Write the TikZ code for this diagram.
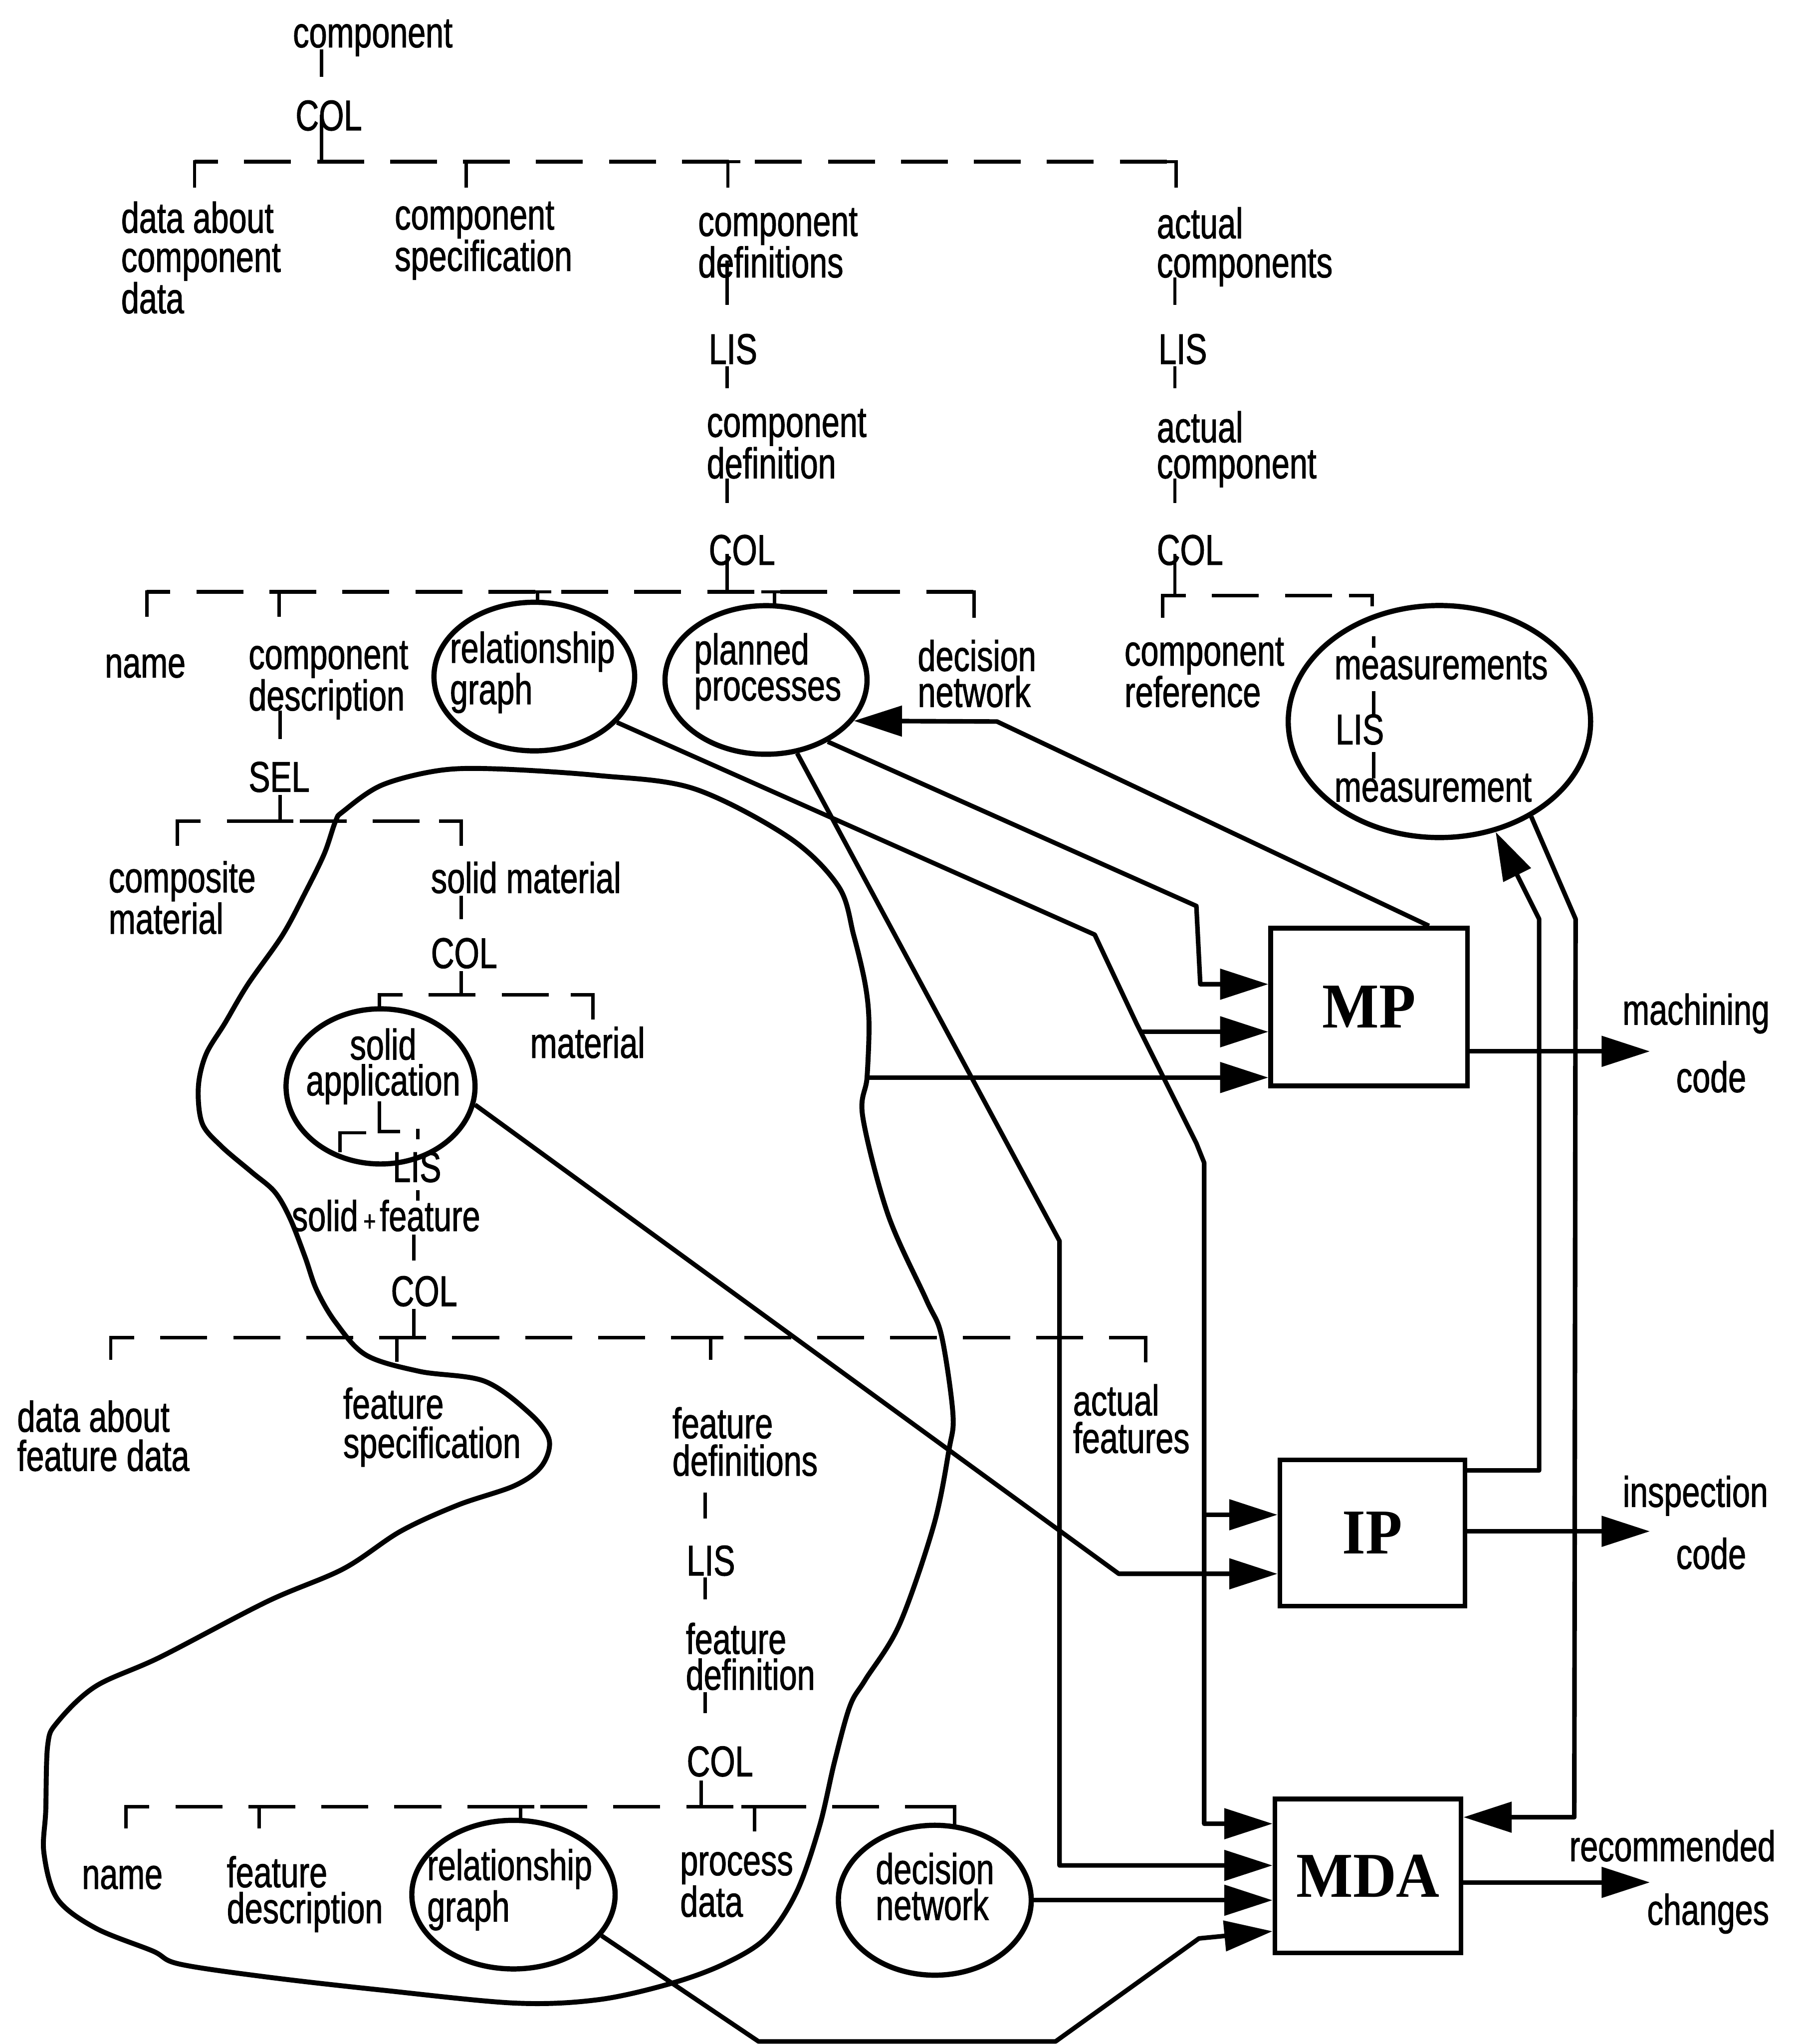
\documentclass[tikz,border=0pt]{standalone}
\usepackage{fontspec}
\setmainfont{Liberation Sans}[FakeStretch=0.75, FakeBold=1.2]
\newfontfamily\boxfont{Liberation Serif}[FakeStretch=0.94]
\usetikzlibrary{arrows.meta,shapes.geometric,calc}

% Multi-line labels are placed by the baseline of their last line.
\tikzset{
  lbl/.style={anchor=base west, inner sep=0pt, outer sep=0pt, align=left,
              font=\fontsize{33}{28.5}\selectfont},
  lead/.style={font=\fontsize{33}{#1}\selectfont},
  oval/.style={draw, ellipse, line width=4pt, inner sep=0pt},
  proc/.style={draw, rectangle, line width=3.5pt, inner sep=0pt,
               font=\boxfont\bfseries\fontsize{49}{49}\selectfont},
  link/.style={line width=3.5pt, line join=round},
  arr/.style={link, -{Triangle[length=37pt,width=23pt]}},
  tick/.style={line width=2.6pt},
  bus/.style={line width=2.8pt, dash pattern=on 36pt off 20pt, dash phase=18pt},
}

\begin{document}
\begin{tikzpicture}[x=1pt,y=-1pt]
\useasboundingbox (0,0) rectangle (1377,1568);

% ---------- component level ----------
\node[lbl] (tcomp) at (224.8,36.3) {component};
\node[lbl] (tcol1) at (226.8,100) {COL};
\node[lbl, lead=30] (tdacd) at (93,240.3) {data about\\component\\data};
\node[lbl, lead=30] (tcspec) at (302.9,207.8) {component\\specification};
\node[lbl, lead=30] (tcdefs) at (535.7,212.8) {component\\definitions};
\node[lbl] (tlis1) at (543.9,279.2) {LIS};
\node[lbl, lead=27.6] (tcdef) at (542.4,366.9) {component\\definition};
\node[lbl] (tcol2) at (543.9,433.3) {COL};
\node[lbl, lead=30] (tacts) at (887.7,212.8) {actual\\components};
\node[lbl] (tlis2) at (889,279.2) {LIS};
\node[lbl, lead=27.6] (tact) at (887.7,366.9) {actual\\component};
\node[lbl] (tcol3) at (887.7,433.3) {COL};

\draw[tick] (246.7,38) -- (246.7,59);
\draw[tick] (246.7,88) -- (246.7,124);
\draw[bus] (149.3,124) -- (902.4,124);
\draw[tick] (149.3,144) -- (149.3,124) -- (167,124);
\draw[tick] (885,124) -- (902.4,124) -- (902.4,144);
\draw[tick] (357.6,144) -- (357.6,124) -- (375,124);
\draw[tick] (548,124) -- (568,124) (558.5,124) -- (558.5,144);

\draw[tick] (558,200) -- (558,234);
\draw[tick] (558,281) -- (558,298);
\draw[tick] (558,367) -- (558,386);
\draw[tick] (558,425) -- (558,454);
\draw[tick] (901.5,213) -- (901.5,234);
\draw[tick] (901.5,281) -- (901.5,298);
\draw[tick] (901.5,367) -- (901.5,386);
\draw[tick] (901.5,425) -- (901.5,457);

% ---------- component definition attributes ----------
\node[oval, minimum width=154pt, minimum height=114pt] (rg1) at (410,519) {};
\node[oval, minimum width=155pt, minimum height=114pt] (pp) at (587.8,521.6) {};
\node[oval, minimum width=232pt, minimum height=178pt] (ms) at (1104.5,553.5) {};

\node[lbl] (tname1) at (80.5,519.7) {name};
\node[lbl, lead=26.5] (tcdesc) at (190.8,545) {component\\description};
\node[lbl, lead=23] (trg1) at (345.3,540.2) {relationship\\graph};
\node[lbl, lead=27.6] (tpp) at (532.7,537.3) {planned\\processes};
\node[lbl, lead=27.6] (tdn1) at (704.2,542.3) {decision\\network};
\node[lbl, lead=27.6] (tcref) at (862.9,542.3) {component\\reference};
\node[lbl] (tmeas) at (1024,521) {measurements};
\node[lbl] (tlis3) at (1024.8,571) {LIS};
\node[lbl] (tmeas1) at (1024,614.9) {measurement};

\draw[bus] (112.7,454) -- (747.3,454);
\draw[tick] (112.7,473) -- (112.7,454) -- (130,454);
\draw[tick] (730,454) -- (747.3,454) -- (747.3,474);
\draw[tick] (214.2,473) -- (214.2,454) -- (232,454);
\draw[tick] (402,454) -- (423,454) (412.6,454) -- (412.6,462);
\draw[tick] (584,454) -- (604,454) (594.2,454) -- (594.2,465);

\draw[bus] (892,457) -- (1053,457);
\draw[tick] (892,474) -- (892,457) -- (910,457);
\draw[tick] (1035,457) -- (1053,457) -- (1053,465);

\draw[tick] (1054,488) -- (1054,497);
\draw[tick] (1054,530) -- (1054,548);
\draw[tick] (1054,577) -- (1054,597);

% ---------- material branch ----------
\node[lbl] (tsel) at (190.8,607.4) {SEL};
\node[lbl, lead=30] (tcomp2) at (83.4,716.3) {composite\\material};
\node[lbl] (tsolid) at (330.7,685) {solid material};
\node[lbl] (tcol4) at (330.7,742.6) {COL};
\node[oval, minimum width=145pt, minimum height=119pt] (sa) at (292,833.4) {};
\node[lbl, anchor=base, align=center, lead=27.5] (tsa) at (294,840.3) {solid\\application};
\node[lbl] (tmat) at (406.8,811.5) {material};
\node[lbl] (tlis4) at (301.4,906.7) {LIS};
\node[lbl] (tsf) at (223.9,944.3) {solid\hspace{4pt}{\fontsize{22}{22}\selectfont+}\hspace{3pt}feature};
\node[lbl] (tcol5) at (300,1001.9) {COL};

\draw[tick] (215,545) -- (215,567);
\draw[tick] (215,610) -- (215,630);
\draw[bus] (136,630) -- (354,630);
\draw[tick] (136,649) -- (136,630) -- (153,630);
\draw[tick] (337,630) -- (354,630) -- (354,649);
\draw[tick] (205,630) -- (225,630);

\draw[tick] (354,687) -- (354,705);
\draw[tick] (354,745) -- (354,763);
\draw[bus] (291,763) -- (455,763);
\draw[tick] (291,774) -- (291,763) -- (308,763);
\draw[tick] (438,763) -- (455,763) -- (455,782);
\draw[tick] (344,763) -- (364,763);

\draw[tick] (291,845) -- (291,868) -- (307,868);
\draw[tick] (281,869) -- (261,869) -- (261,884);
\draw[tick] (320.5,866) -- (320.5,874);
\draw[tick] (320.5,913) -- (320.5,921);
\draw[tick] (317.5,947) -- (317.5,967);
\draw[tick] (317.5,1004) -- (317.5,1026);

% ---------- feature level ----------
\node[lbl, lead=30] (tdafd) at (13.2,1128.3) {data about\\feature data};
\node[lbl, lead=30] (tfspec) at (263.4,1118.3) {feature\\specification};
\node[lbl, lead=28.7] (tfdefs) at (516,1132) {feature\\definitions};
\node[lbl, lead=28.8] (tafeat) at (823.4,1114.6) {actual\\features};
\node[lbl] (tlis5) at (526.9,1208.6) {LIS};
\node[lbl, lead=27.5] (tfdef) at (526.3,1296.2) {feature\\definition};
\node[lbl] (tcol6) at (527,1362.6) {COL};

\draw[bus] (85,1026) -- (879,1026);
\draw[tick] (85,1043) -- (85,1026) -- (102,1026);
\draw[tick] (862,1026) -- (879,1026) -- (879,1045);
\draw[tick] (294,1026) -- (314,1026) (304.4,1026) -- (304.4,1044.5);
\draw[tick] (535,1026) -- (555,1026) (545.3,1026) -- (545.3,1043);

\draw[tick] (541,1145) -- (541,1165);
\draw[tick] (541,1210) -- (541,1227);
\draw[tick] (541,1298) -- (541,1314);
\draw[tick] (538,1366) -- (538,1386);

% ---------- feature definition attributes ----------
\node[oval, minimum width=156pt, minimum height=114pt] (rg2) at (394,1453.4) {};
\node[oval, minimum width=148pt, minimum height=115pt] (dn2) at (717.3,1457.7) {};
\node[lbl] (tname2) at (62.9,1449) {name};
\node[lbl, lead=27.6] (tfdesc) at (174.1,1475.3) {feature\\description};
\node[lbl, lead=27.5] (trg2) at (327.8,1474) {relationship\\graph};
\node[lbl, lead=26.3] (tpd) at (521.9,1470.3) {process\\data};
\node[lbl, lead=27.6] (tdn2) at (672,1472.8) {decision\\network};

\draw[bus] (96.6,1386) -- (732.6,1386);
\draw[tick] (96.6,1402.6) -- (96.6,1386) -- (114,1386);
\draw[tick] (715,1386) -- (732.6,1386) -- (732.6,1400);
\draw[tick] (199,1402.6) -- (199,1386) -- (216,1386);
\draw[tick] (389,1386) -- (410,1386) (399.5,1386) -- (399.5,1396.4);
\draw[tick] (569,1386) -- (589,1386) (579,1386) -- (579,1405);

% ---------- selected region ----------
\draw[link, line width=3.8pt] plot[smooth cycle, tension=0.55] coordinates {
  (263.4,622.4) (292.7,602.4) (336.6,591.1) (380.5,589.8) (459,594.9)
  (532.2,604.9) (605.3,642.4) (643.4,680) (655.1,717.6) (663.9,755.1)
  (666.8,784.7) (665.3,826.6) (662,856.6) (681.4,931.8) (710.7,996.9)
  (722.4,1024.4) (731.2,1084.5) (728.2,1112) (716.5,1170) (690.2,1246.1)
  (663.9,1288.7) (652.2,1308.7) (640.4,1351.3) (628.7,1401.4) (611.2,1451.5)
  (587.8,1486.5) (555.6,1506.6) (514.6,1521.6) (459,1534) (395,1536.6)
  (292.7,1526.6) (204.9,1516.6) (137.5,1506.6) (117.1,1496.6) (73.2,1479)
  (43.9,1456.5) (33.7,1421.4) (35.1,1388.9) (36.6,1338.8) (43.9,1321.3)
  (73.2,1293.7) (122.9,1271.2) (204.9,1228.6) (263.4,1203.5) (307.3,1174.7)
  (351.2,1154.6) (395,1139.6) (415.6,1124.6) (421.4,1104.6) (406.8,1084.5)
  (371.7,1059.5) (321.9,1052) (280.9,1039.5) (257.5,1014.4) (242.9,989.4)
  (234.1,964.3) (222.4,934.3) (210.7,914.2) (193.2,899.2) (169.7,879.2)
  (155.1,861.6) (152.2,834) (158,809) (172.7,784.7) (190.2,755.1)
  (216.6,717.6) (234.1,685) (248.8,655) (257.5,629.9)};

% ---------- processors ----------
\node[proc, minimum width=151pt, minimum height=121pt] (mp) at (1050.5,772.5) {MP};
\node[proc, minimum width=142pt, minimum height=112pt] (ip) at (1053,1176) {IP};
\node[proc, minimum width=143pt, minimum height=118pt] (mda) at (1049.7,1439) {MDA};

\node[lbl] (tmach) at (1245,786) {machining};
\node[lbl] (tcode1) at (1286.2,837.8) {code};
\node[lbl] (tinsp) at (1245.2,1155.9) {inspection};
\node[lbl] (tcode2) at (1286.2,1203.5) {code};
\node[lbl] (trec) at (1204.2,1427.7) {recommended};
\node[lbl] (tchg) at (1263.9,1476.5) {changes};

% ---------- data flows ----------
\coordinate (b1) at (765,553.5);
\draw[arr] ($(mp.north)+(46,0)$) -- (b1) -- (pp.-25);

\coordinate (b2) at (918,695);
\coordinate (b3) at (921,755);
\draw[arr] (pp.-45) -- (b2) -- (b3) -- (b3 -| mp.west);

\coordinate (c1) at (840,717);
\coordinate (c2) at (872,785);
\coordinate (c3) at (918,877);
\coordinate (c4) at (924,892);
\coordinate (c5) at (924,1399);
\draw[arr] (rg1.-29) -- (c1) -- (c2) -- (c3) -- (c4) -- (c5) -- (c5 -| mda.west);
\coordinate (c6) at (875.3,791.5);
\draw[arr] (c6) -- (c6 -| mp.west);
\coordinate (c7) at (924,1162);
\draw[arr] (c7) -- (c7 -| ip.west);

\coordinate (d1) at (813,952);
\coordinate (d2) at (813,1431);
\draw[arr] (pp.-67) -- (d1) -- (d2) -- (d2 -| mda.west);

\coordinate (e1) at (858.5,1207.3);
\draw[arr] (sa.-11) -- (e1) -- (e1 -| ip.west);

\coordinate (blobr) at (665.3,826.6);
\draw[arr] (blobr) -- (blobr -| mp.west);

\draw[arr] (dn2.east) -- (dn2.east -| mda.west);

\coordinate (f1) at (582,1566);
\coordinate (f2) at (810,1566);
\coordinate (f3) at (920,1487);
\draw[arr] (rg2.-25) -- (f1) -- (f2) -- (f3) -- ($(mda.west)+(0,42.5)$);

\coordinate (g1) at (1181,1128);
\coordinate (g2) at (1181,705);
\draw[arr] (g1 -| ip.east) -- (g1) -- (g2) -- (ms.-63);

\coordinate (h1) at (1209,705);
\coordinate (h2) at (1208,1394);
\draw[arr] (ms.-46) -- (h1) -- (h2) -- (h2 -| mda.east);

\coordinate (o1) at (1266,806.5);
\draw[arr] (o1 -| mp.east) -- (o1);
\coordinate (o2) at (1266,1174.7);
\draw[arr] (o2 -| ip.east) -- (o2);
\coordinate (o3) at (1266,1444);
\draw[arr] (o3 -| mda.east) -- (o3);

\end{tikzpicture}
\end{document}
